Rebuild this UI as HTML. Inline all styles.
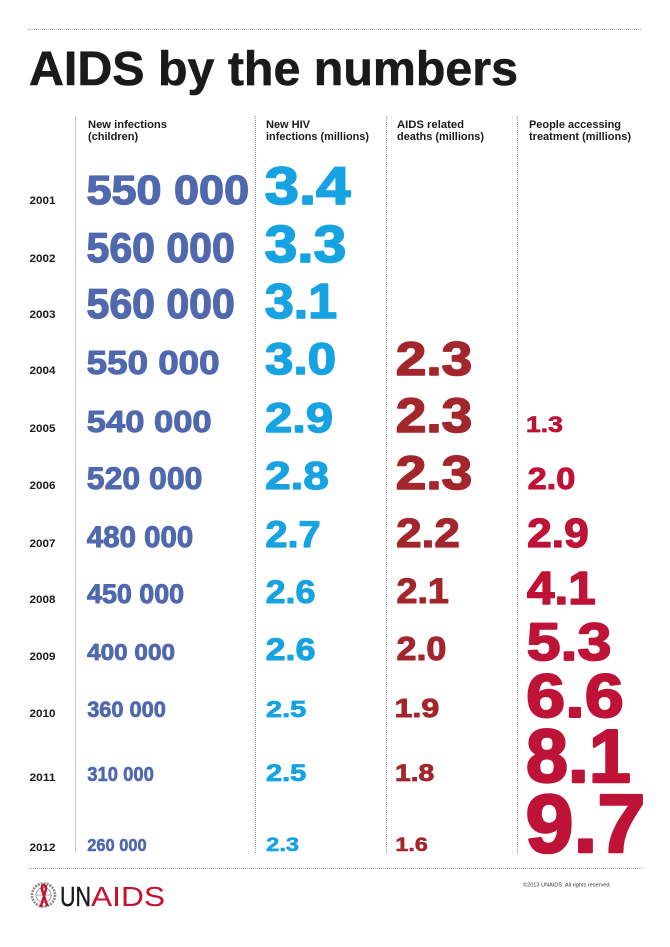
<!DOCTYPE html>
<html>
<head>
<meta charset="utf-8">
<style>
  html, body { margin:0; padding:0; background:#ffffff; }
  svg { display:block; font-family:"Liberation Sans", Arial, sans-serif; }
  svg text { font-family:"Liberation Sans", Arial, sans-serif; }
  .b { font-weight:bold; }
  .c1 { fill:#5068ae; stroke:#5068ae; font-weight:bold; stroke-linejoin:round; }
  .c2 { fill:#17a3e2; stroke:#17a3e2; font-weight:bold; stroke-linejoin:round; }
  .c3 { fill:#a3262c; stroke:#a3262c; font-weight:bold; stroke-linejoin:round; }
  .c4 { fill:#be1237; stroke:#be1237; font-weight:bold; stroke-linejoin:round; }
  .yr { fill:#1a1a1a; font-weight:bold; font-size:11px; }
  .hd { fill:#1a1a1a; font-weight:bold; font-size:11px; }
</style>
</head>
<body>
<svg width="670" height="947" viewBox="0 0 670 947" xmlns="http://www.w3.org/2000/svg" font-family="Liberation Sans, Arial, sans-serif">
  <rect width="670" height="947" fill="#ffffff"/>

  <!-- top dotted rule -->
  <line x1="28" y1="29.5" x2="642" y2="29.5" stroke="#9a9a9a" stroke-width="1" stroke-dasharray="1,1"/>

  <!-- title -->
  <text x="29" y="85" font-size="48" font-family="Liberation Sans, Arial, sans-serif" font-weight="bold" fill="#1a1a1a" stroke="#1a1a1a" stroke-width="0.6" textLength="489" lengthAdjust="spacingAndGlyphs">AIDS by the numbers</text>

  <!-- column separators -->
  <line x1="75.5" y1="116" x2="75.5" y2="853" stroke="#c4c4c4" stroke-width="1"/>
  <line x1="255.5" y1="116" x2="255.5" y2="854" stroke="#9a9a9a" stroke-width="1" stroke-dasharray="1,1"/>
  <line x1="386.5" y1="116" x2="386.5" y2="854" stroke="#9a9a9a" stroke-width="1" stroke-dasharray="1,1"/>
  <line x1="517.5" y1="116" x2="517.5" y2="854" stroke="#9a9a9a" stroke-width="1" stroke-dasharray="1,1"/>

  <!-- headers -->
  <g font-family="Liberation Sans, Arial, sans-serif">
  <text class="hd" x="88" y="128" textLength="79" lengthAdjust="spacingAndGlyphs">New infections</text>
  <text class="hd" x="88" y="140">(children)</text>
  <text class="hd" x="266" y="128">New HIV</text>
  <text class="hd" x="266" y="140" textLength="103" lengthAdjust="spacingAndGlyphs">infections (millions)</text>
  <text class="hd" x="397" y="128" textLength="67" lengthAdjust="spacingAndGlyphs">AIDS related</text>
  <text class="hd" x="397" y="140" textLength="87" lengthAdjust="spacingAndGlyphs">deaths (millions)</text>
  <text class="hd" x="529" y="128" textLength="92" lengthAdjust="spacingAndGlyphs">People accessing</text>
  <text class="hd" x="529" y="140" textLength="102" lengthAdjust="spacingAndGlyphs">treatment (millions)</text>
  </g>

  <!-- years -->
  <g font-family="Liberation Sans, Arial, sans-serif">
  <text class="yr" x="29.5" y="204" textLength="26" lengthAdjust="spacingAndGlyphs">2001</text>
  <text class="yr" x="29.5" y="262" textLength="26" lengthAdjust="spacingAndGlyphs">2002</text>
  <text class="yr" x="29.5" y="318" textLength="26" lengthAdjust="spacingAndGlyphs">2003</text>
  <text class="yr" x="29.5" y="374" textLength="26" lengthAdjust="spacingAndGlyphs">2004</text>
  <text class="yr" x="29.5" y="432" textLength="26" lengthAdjust="spacingAndGlyphs">2005</text>
  <text class="yr" x="29.5" y="489" textLength="26" lengthAdjust="spacingAndGlyphs">2006</text>
  <text class="yr" x="29.5" y="547" textLength="26" lengthAdjust="spacingAndGlyphs">2007</text>
  <text class="yr" x="29.5" y="603" textLength="26" lengthAdjust="spacingAndGlyphs">2008</text>
  <text class="yr" x="29.5" y="660" textLength="26" lengthAdjust="spacingAndGlyphs">2009</text>
  <text class="yr" x="29.5" y="717" textLength="26" lengthAdjust="spacingAndGlyphs">2010</text>
  <text class="yr" x="29.5" y="781" textLength="26" lengthAdjust="spacingAndGlyphs">2011</text>
  <text class="yr" x="29.5" y="851" textLength="26" lengthAdjust="spacingAndGlyphs">2012</text>
  </g>

  <!-- column 1: new infections (children) -->
  <g font-family="Liberation Sans, Arial, sans-serif">
  <text class="c1" x="86.5" y="204" font-size="41" stroke-width="1.3" textLength="162.6" lengthAdjust="spacingAndGlyphs">550 000</text>
  <text class="c1" x="86.5" y="262" font-size="42" stroke-width="1.3" textLength="148.3" lengthAdjust="spacingAndGlyphs">560 000</text>
  <text class="c1" x="86.5" y="318" font-size="42" stroke-width="1.3" textLength="148.3" lengthAdjust="spacingAndGlyphs">560 000</text>
  <text class="c1" x="86.7" y="374" font-size="33.5" stroke-width="1.1" textLength="132.9" lengthAdjust="spacingAndGlyphs">550 000</text>
  <text class="c1" x="86.8" y="432" font-size="31" stroke-width="1.0" textLength="124.8" lengthAdjust="spacingAndGlyphs">540 000</text>
  <text class="c1" x="86.8" y="489" font-size="31.5" stroke-width="1.0" textLength="115.6" lengthAdjust="spacingAndGlyphs">520 000</text>
  <text class="c1" x="86.9" y="547" font-size="30" stroke-width="1.0" textLength="106.4" lengthAdjust="spacingAndGlyphs">480 000</text>
  <text class="c1" x="87" y="603" font-size="26.5" stroke-width="0.9" textLength="97.1" lengthAdjust="spacingAndGlyphs">450 000</text>
  <text class="c1" x="87.1" y="660" font-size="23.3" stroke-width="0.8" textLength="87.9" lengthAdjust="spacingAndGlyphs">400 000</text>
  <text class="c1" x="87.2" y="717" font-size="22" stroke-width="0.7" textLength="78.7" lengthAdjust="spacingAndGlyphs">360 000</text>
  <text class="c1" x="87.3" y="781" font-size="20" stroke-width="0.6" textLength="66.5" lengthAdjust="spacingAndGlyphs">310 000</text>
  <text class="c1" x="87.3" y="851" font-size="17.2" stroke-width="0.5" textLength="59.3" lengthAdjust="spacingAndGlyphs">260 000</text>
  </g>

  <!-- column 2: new HIV infections -->
  <g font-family="Liberation Sans, Arial, sans-serif">
  <text class="c2" x="264.6" y="204" font-size="53" stroke-width="1.7" textLength="85.9" lengthAdjust="spacingAndGlyphs">3.4</text>
  <text class="c2" x="264.6" y="262" font-size="51.7" stroke-width="1.7" textLength="81.7" lengthAdjust="spacingAndGlyphs">3.3</text>
  <text class="c2" x="264.9" y="318" font-size="49" stroke-width="1.6" textLength="72.2" lengthAdjust="spacingAndGlyphs">3.1</text>
  <text class="c2" x="265" y="374" font-size="44.7" stroke-width="1.5" textLength="71.1" lengthAdjust="spacingAndGlyphs">3.0</text>
  <text class="c2" x="265.1" y="432" font-size="42" stroke-width="1.4" textLength="67.9" lengthAdjust="spacingAndGlyphs">2.9</text>
  <text class="c2" x="265.2" y="489" font-size="39" stroke-width="1.3" textLength="63.7" lengthAdjust="spacingAndGlyphs">2.8</text>
  <text class="c2" x="265.4" y="547" font-size="37.3" stroke-width="1.2" textLength="55.2" lengthAdjust="spacingAndGlyphs">2.7</text>
  <text class="c2" x="265.6" y="603" font-size="32.5" stroke-width="1.0" textLength="49.9" lengthAdjust="spacingAndGlyphs">2.6</text>
  <text class="c2" x="265.6" y="660" font-size="31.5" stroke-width="1.0" textLength="49.9" lengthAdjust="spacingAndGlyphs">2.6</text>
  <text class="c2" x="266" y="717" font-size="23" stroke-width="0.8" textLength="40.3" lengthAdjust="spacingAndGlyphs">2.5</text>
  <text class="c2" x="266" y="781" font-size="24" stroke-width="0.8" textLength="40.3" lengthAdjust="spacingAndGlyphs">2.5</text>
  <text class="c2" x="266.2" y="851" font-size="19.6" stroke-width="0.6" textLength="32.9" lengthAdjust="spacingAndGlyphs">2.3</text>
  </g>

  <!-- column 3: AIDS related deaths -->
  <g font-family="Liberation Sans, Arial, sans-serif">
  <text class="c3" x="395.8" y="375" font-size="47.5" stroke-width="1.6" textLength="76.4" lengthAdjust="spacingAndGlyphs">2.3</text>
  <text class="c3" x="395.8" y="432" font-size="48" stroke-width="1.6" textLength="76.4" lengthAdjust="spacingAndGlyphs">2.3</text>
  <text class="c3" x="395.8" y="489" font-size="47.5" stroke-width="1.6" textLength="76.4" lengthAdjust="spacingAndGlyphs">2.3</text>
  <text class="c3" x="396.2" y="547" font-size="40.5" stroke-width="1.3" textLength="63.7" lengthAdjust="spacingAndGlyphs">2.2</text>
  <text class="c3" x="396.5" y="603" font-size="35" stroke-width="1.1" textLength="52.4" lengthAdjust="spacingAndGlyphs">2.1</text>
  <text class="c3" x="396.5" y="660" font-size="33.5" stroke-width="1.1" textLength="49.9" lengthAdjust="spacingAndGlyphs">2.0</text>
  <text class="c3" x="394.5" y="717" font-size="26" stroke-width="0.9" textLength="44.8" lengthAdjust="spacingAndGlyphs">1.9</text>
  <text class="c3" x="395" y="781" font-size="23.7" stroke-width="0.8" textLength="39.2" lengthAdjust="spacingAndGlyphs">1.8</text>
  <text class="c3" x="395.4" y="851" font-size="19.6" stroke-width="0.6" textLength="32.4" lengthAdjust="spacingAndGlyphs">1.6</text>
  </g>

  <!-- column 4: people accessing treatment -->
  <g font-family="Liberation Sans, Arial, sans-serif">
  <text class="c4" x="526" y="432" font-size="22.3" stroke-width="0.7" textLength="36.9" lengthAdjust="spacingAndGlyphs">1.3</text>
  <text class="c4" x="527.6" y="489" font-size="30.7" stroke-width="1.0" textLength="47.7" lengthAdjust="spacingAndGlyphs">2.0</text>
  <text class="c4" x="527.2" y="547" font-size="40.5" stroke-width="1.3" textLength="61.5" lengthAdjust="spacingAndGlyphs">2.9</text>
  <text class="c4" x="527" y="604" font-size="46" stroke-width="1.5" textLength="68.7" lengthAdjust="spacingAndGlyphs">4.1</text>
  <text class="c4" x="526.6" y="660" font-size="53" stroke-width="1.7" textLength="84.9" lengthAdjust="spacingAndGlyphs">5.3</text>
  <text class="c4" x="526.2" y="717" font-size="61.5" stroke-width="2.0" textLength="97.6" lengthAdjust="spacingAndGlyphs">6.6</text>
  <text class="c4" x="526" y="782" font-size="75.4" stroke-width="2.4" textLength="104.8" lengthAdjust="spacingAndGlyphs">8.1</text>
  <text class="c4" x="525.5" y="852" font-size="82.4" stroke-width="2.6" textLength="119.9" lengthAdjust="spacingAndGlyphs">9.7</text>
  </g>

  <!-- bottom dotted rule -->
  <line x1="29" y1="868.5" x2="643" y2="868.5" stroke="#9a9a9a" stroke-width="1" stroke-dasharray="1,1"/>

  <!-- UNAIDS logo emblem -->
  <g>
    <circle cx="43.5" cy="895" r="11.5" fill="none" stroke="#8a8a8a" stroke-width="2.6" stroke-dasharray="2,1"/>
    <circle cx="43.5" cy="895" r="7.5" fill="none" stroke="#9a9a9a" stroke-width="1"/>
    <line x1="36" y1="895" x2="51" y2="895" stroke="#9a9a9a" stroke-width="0.8"/>
    <line x1="43.5" y1="887.5" x2="43.5" y2="902.5" stroke="#9a9a9a" stroke-width="0.8"/>
    <path d="M41 906 L45.5 891 Q47 886 44 885 Q41 885.5 42 890 L47 905" fill="none" stroke="#c8102e" stroke-width="2.4" stroke-linecap="round"/>
  </g>
  <text x="60" y="906" font-size="28" font-family="Liberation Sans, Arial, sans-serif" fill="#1a1a1a" stroke="#1a1a1a" stroke-width="0.4" textLength="31" lengthAdjust="spacingAndGlyphs">UN</text>
  <text x="91" y="906" font-size="28" font-family="Liberation Sans, Arial, sans-serif" fill="#c8102e" textLength="74" lengthAdjust="spacingAndGlyphs">AIDS</text>

  <!-- copyright -->
  <text x="523" y="886.5" font-size="5.6" font-family="Liberation Sans, Arial, sans-serif" fill="#333" textLength="88" lengthAdjust="spacingAndGlyphs">©2013 UNAIDS. All rights reserved.</text>
</svg>
</body>
</html>
